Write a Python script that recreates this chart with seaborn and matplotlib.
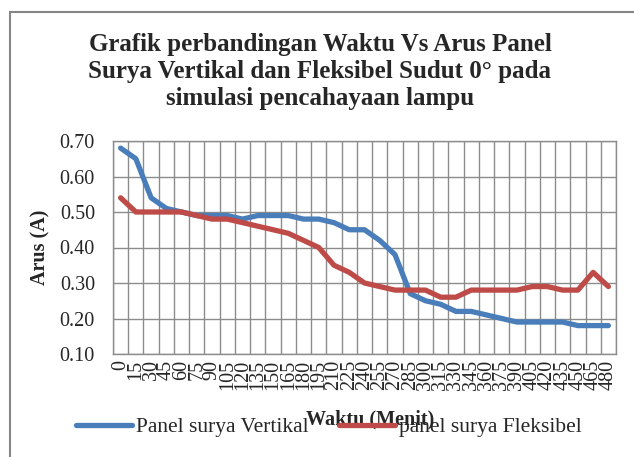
import numpy as np
import pandas as pd
import matplotlib
matplotlib.use('Agg')
import matplotlib.pyplot as plt
import seaborn as sns
from matplotlib.patches import Rectangle

# waktu (menit) dan arus (A)
waktu = [0, 15, 30, 45, 60, 75, 90, 105, 120, 135, 150, 165, 180, 195, 210,
         225, 240, 255, 270, 285, 300, 315, 330, 345, 360, 375, 390, 405,
         420, 435, 450, 465, 480]
arus_vertikal = [0.68, 0.65, 0.54, 0.51, 0.50, 0.49, 0.49, 0.49, 0.48, 0.49,
                 0.49, 0.49, 0.48, 0.48, 0.47, 0.45, 0.45, 0.42, 0.38, 0.27,
                 0.25, 0.24, 0.22, 0.22, 0.21, 0.20, 0.19, 0.19, 0.19, 0.19,
                 0.18, 0.18, 0.18]
arus_fleksibel = [0.54, 0.50, 0.50, 0.50, 0.50, 0.49, 0.48, 0.48, 0.47, 0.46,
                  0.45, 0.44, 0.42, 0.40, 0.35, 0.33, 0.30, 0.29, 0.28, 0.28,
                  0.28, 0.26, 0.26, 0.28, 0.28, 0.28, 0.28, 0.29, 0.29, 0.28,
                  0.28, 0.33, 0.29]
seri = ['Panel surya Vertikal', 'panel surya Fleksibel']
y_ticks = [0.10, 0.20, 0.30, 0.40, 0.50, 0.60, 0.70]

BLUE = '#4a7ebb'
RED = '#be4b48'
GRID = '#8c8c8c'

df = pd.DataFrame({
    'Waktu': waktu * 2,
    'Arus': arus_vertikal + arus_fleksibel,
    'Seri': [seri[0]] * len(waktu) + [seri[1]] * len(waktu),
})

sns.set_theme(style='white')
plt.rcParams['font.family'] = ['Liberation Serif', 'DejaVu Serif']

W, H = 634, 457
fig = plt.figure(figsize=(W / 100, H / 100), dpi=100)

# bingkai area grafik
fig.patches.append(Rectangle((10 / W, -0.1), 1.2, 1 - 12 / H + 0.1,
                             transform=fig.transFigure, fill=False,
                             edgecolor='#868686', lw=1.5, zorder=0))

ax = fig.add_axes([113 / W, 1 - 354 / H, (616 - 113) / W, (354 - 141) / H])
sns.lineplot(data=df, x='Waktu', y='Arus', hue='Seri', palette=[BLUE, RED],
             lw=3.8, ax=ax, solid_capstyle='round', solid_joinstyle='round')

ax.set_xlim(waktu[0] - 7.5, waktu[-1] + 7.5)
ax.set_xticks(waktu)
ax.set_xticklabels([str(w) for w in waktu], rotation=90, fontsize=14.5)
ax.set_xticks([w - 7.5 for w in waktu] + [waktu[-1] + 7.5], minor=True)
ax.set_ylim(y_ticks[0], y_ticks[-1])
ax.set_yticks(y_ticks)
ax.set_yticklabels([f'{v:.2f}' for v in y_ticks], fontsize=14.5)
ax.tick_params(axis='both', which='both', length=0)
ax.tick_params(axis='y', pad=13)
ax.tick_params(axis='x', pad=4)

ax.grid(False)
ax.grid(which='minor', axis='x', color=GRID, lw=1)
ax.grid(which='major', axis='y', color=GRID, lw=1)
ax.set_axisbelow(True)
for s in ax.spines.values():
    s.set_edgecolor(GRID)
    s.set_linewidth(1)

ax.set_xlabel('Waktu (Menit)', fontsize=14.5, fontweight='bold')
ax.xaxis.set_label_coords((370 - 113) / 503, (354 - 419) / 213)
ax.xaxis.label.set_va('center')
ax.set_ylabel('Arus (A)', fontsize=14.5, fontweight='bold')
ax.yaxis.set_label_coords((40 - 113) / 503, 0.5)
ax.yaxis.label.set_va('center')

handles, labels = ax.get_legend_handles_labels()
ax.get_legend().remove()
fig.legend(handles, labels, loc='center', ncol=2, frameon=False,
           bbox_to_anchor=(329 / W, 1 - 427 / H), fontsize=15.5,
           handlelength=2.6, handletextpad=0.2, columnspacing=1.4)

fig.suptitle('Grafik perbandingan Waktu Vs Arus Panel\n'
             'Surya Vertikal dan Fleksibel Sudut 0° pada\n'
             'simulasi pencahayaan lampu',
             x=320 / W, y=1 - 33 / H, va='top', fontsize=18,
             fontweight='bold', linespacing=1.22)

fig.savefig('out.png', dpi=100, facecolor='white')
